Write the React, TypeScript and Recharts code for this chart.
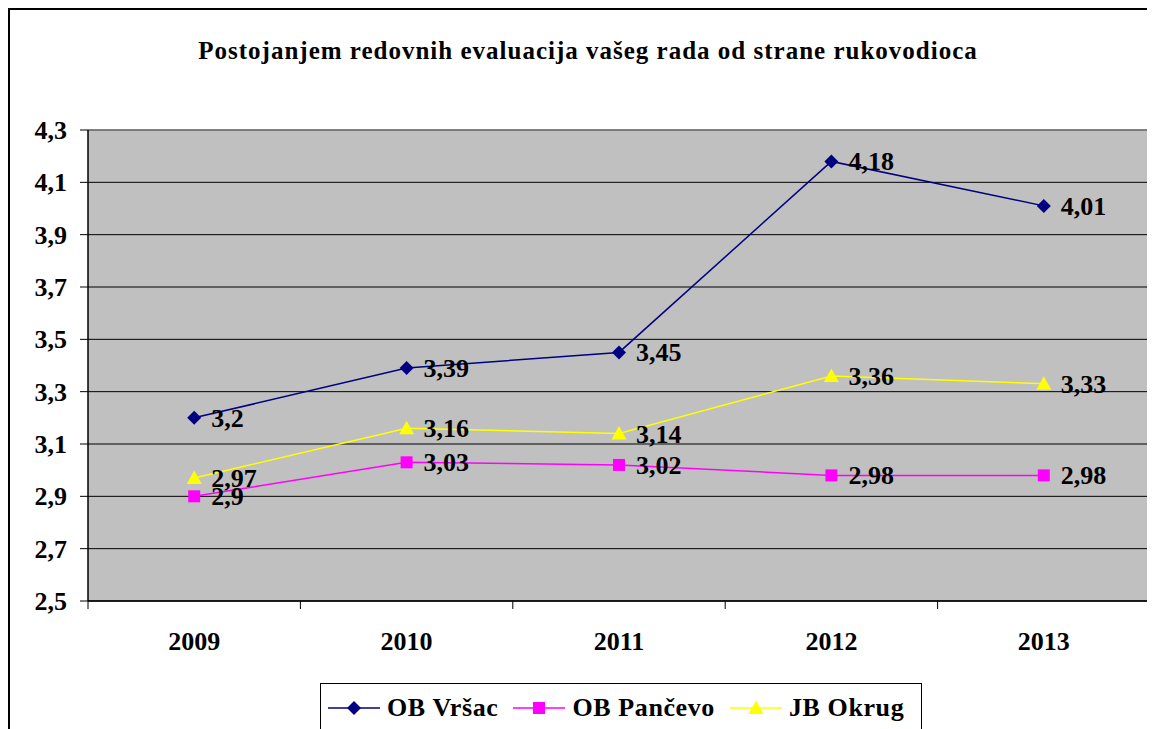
import { LineChart, Line, XAxis, YAxis, CartesianGrid, LabelList, ReferenceLine } from "recharts";

const years = ["2009", "2010", "2011", "2012", "2013"];
const vrsac = [3.2, 3.39, 3.45, 4.18, 4.01];
const pancevo = [2.9, 3.03, 3.02, 2.98, 2.98];
const okrug = [2.97, 3.16, 3.14, 3.36, 3.33];
const yTicks = [2.5, 2.7, 2.9, 3.1, 3.3, 3.5, 3.7, 3.9, 4.1, 4.3];
const xBounds = [0, 1, 2, 3, 4, 5];

const data = years.map((year, i) => ({
  x: i + 0.5,
  year,
  vrsac: vrsac[i],
  pancevo: pancevo[i],
  okrug: okrug[i],
}));

const FONT = "Liberation Serif";
const CHART_W = 1145;
const CHART_H = 719;
const MARGIN = { top: 120, right: 5, left: 0, bottom: 78 };
const Y_W = 78;
const HALF_BAND = (CHART_W - MARGIN.left - MARGIN.right - Y_W) / years.length / 2;

const fmt = (v: number) => String(v).replace(".", ",");

const diamond = (cx: number, cy: number, color: string, r = 7) => (
  <polygon points={`${cx},${cy - r} ${cx + r},${cy} ${cx},${cy + r} ${cx - r},${cy}`} fill={color} />
);
const square = (cx: number, cy: number, color: string, r = 6) => (
  <rect x={cx - r} y={cy - r} width={r * 2} height={r * 2} fill={color} />
);
const triangle = (cx: number, cy: number, color: string, r = 7.5) => (
  <polygon points={`${cx},${cy - r} ${cx + r},${cy + r * 0.8} ${cx - r},${cy + r * 0.8}`} fill={color} />
);

const series = [
  { key: "vrsac", name: "OB Vršac", color: "#000080", shape: diamond },
  { key: "pancevo", name: "OB Pančevo", color: "#FF00FF", shape: square },
  { key: "okrug", name: "JB Okrug", color: "#FFFF00", shape: triangle },
];

const renderLabel = (props: any) => {
  const vb = props.viewBox || {};
  const x = props.x ?? vb.x;
  const y = props.y ?? vb.y;
  return (
    <text x={x + 17} y={y + 9} style={{ fontSize: 26, fontWeight: 700, fontFamily: FONT }} fill="#000">
      {fmt(props.value)}
    </text>
  );
};

const XTick = (props: any) => {
  const { x, y, payload } = props;
  if (payload.value >= years.length) return <g />;
  return (
    <text x={x + HALF_BAND} y={y} dy={41} textAnchor="middle" style={{ fontSize: 26, fontWeight: 700, fontFamily: FONT }} fill="#000">
      {years[payload.value]}
    </text>
  );
};

const YTick = (props: any) => {
  const { x, y, payload } = props;
  return (
    <text x={x} y={y} dy={9} textAnchor="end" style={{ fontSize: 26, fontWeight: 700, fontFamily: FONT }} fill="#000">
      {payload.value.toFixed(1).replace(".", ",")}
    </text>
  );
};

const LegendBox = () => (
  <div
    style={{
      position: "absolute",
      left: 310,
      top: 673,
      width: 602,
      height: 50,
      border: "1.5px solid #000",
      background: "#fff",
      display: "flex",
      alignItems: "center",
      paddingLeft: 7,
      boxSizing: "border-box",
      fontFamily: FONT,
      fontWeight: 700,
      fontSize: 26,
      letterSpacing: 0.6,
      whiteSpace: "nowrap",
      overflow: "hidden",
    }}
  >
    {series.map((s, i) => (
      <div
        key={s.key}
        style={{ display: "flex", alignItems: "center", flexShrink: 0, marginRight: i < series.length - 1 ? 15 : 0 }}
      >
        <svg width={52} height={20} style={{ marginRight: 7, flexShrink: 0 }}>
          <line x1={0} y1={10} x2={52} y2={10} stroke={s.color} strokeWidth={1.5} />
          {s.shape(26, 10, s.color)}
        </svg>
        <span>{s.name}</span>
      </div>
    ))}
  </div>
);

const App = () => {
  return (
    <div
      style={{
        position: "relative",
        width: 1147,
        height: 721,
        borderLeft: "2px solid #000",
        borderTop: "2px solid #000",
        boxSizing: "border-box",
        background: "#fff",
      }}
    >
      <div
        style={{
          position: "absolute",
          left: 0,
          top: 27,
          width: CHART_W,
          paddingLeft: 11,
          boxSizing: "border-box",
          textAlign: "center",
          fontFamily: FONT,
          fontWeight: 700,
          fontSize: 25,
          letterSpacing: 1,
          lineHeight: "28px",
          whiteSpace: "nowrap",
        }}
      >
        Postojanjem redovnih evaluacija vašeg rada od strane rukovodioca
      </div>
      <LineChart width={CHART_W} height={CHART_H} data={data} margin={MARGIN}>
        <CartesianGrid vertical={false} stroke="#000" fill="#C0C0C0" fillOpacity={1} />
        <XAxis
          dataKey="x"
          type="number"
          domain={[0, 5]}
          ticks={xBounds}
          interval={0}
          tickSize={8}
          tickMargin={0}
          axisLine={{ stroke: "#000", strokeWidth: 1.5 }}
          tickLine={{ stroke: "#000" }}
          tick={<XTick />}
          height={50}
        />
        <YAxis
          type="number"
          domain={[2.5, 4.3]}
          ticks={yTicks}
          interval={0}
          width={Y_W}
          tickSize={8}
          tickMargin={13}
          axisLine={{ stroke: "#000", strokeWidth: 1.5 }}
          tickLine={{ stroke: "#000" }}
          tick={<YTick />}
        />
        <ReferenceLine y={4.3} stroke="#808080" strokeWidth={1.5} />
        <ReferenceLine x={5} stroke="#808080" strokeWidth={1.5} />
        {series.map((s) => (
          <Line
            key={s.key}
            dataKey={s.key}
            name={s.name}
            stroke={s.color}
            strokeWidth={1.5}
            isAnimationActive={false}
            dot={(p: any) => <g key={`${s.key}-${p.index}`}>{s.shape(p.cx, p.cy, s.color)}</g>}
            activeDot={false}
          >
            <LabelList dataKey={s.key} content={renderLabel} />
          </Line>
        ))}
      </LineChart>
      <LegendBox />
    </div>
  );
};

export default App;
